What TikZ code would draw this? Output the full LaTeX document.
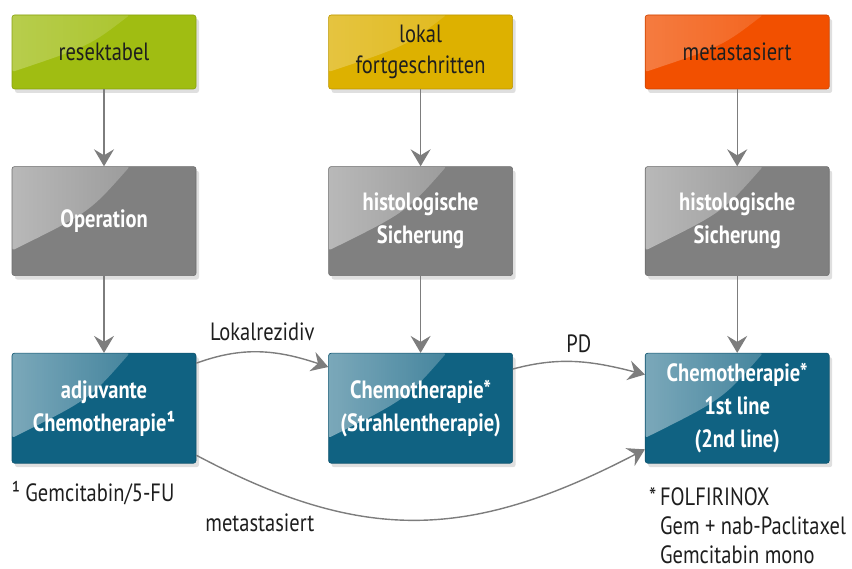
\documentclass[tikz,border=0pt]{standalone}
\usepackage{fontspec}
\setmainfont{PT Sans}[FakeStretch=0.82]
\usepackage{xcolor}
\usetikzlibrary{arrows.meta, bending, positioning, shadows, fadings, calc}

\definecolor{resgreen}{RGB}{160,189,18}
\definecolor{lokyellow}{RGB}{221,177,0}
\definecolor{metorange}{RGB}{242,80,0}
\definecolor{stepgray}{RGB}{128,128,128}
\definecolor{chemoteal}{RGB}{16,98,130}
\definecolor{connect}{RGB}{125,125,125}
\definecolor{inkdark}{RGB}{30,30,30}

\tikzfading[name=glossfade, left color=transparent!55, right color=transparent!90]
\tikzfading[name=softfade, left color=transparent!75, right color=transparent!94]

\tikzstyle{flow}=[x=1pt, y=1pt, font=\fontsize{25}{31}\selectfont,
  >={Stealth[length=17pt, width=20pt, inset=6pt, bend]}]
\tikzstyle{box}=[rectangle, rounded corners=2.5pt, minimum width=184pt,
  align=center, line width=0.6pt, gloss=glossfade,
  drop shadow={shadow xshift=3pt, shadow yshift=-4pt, opacity=0.25}]
\tikzset{gloss/.style={path picture={\fill[white, path fading=#1]
    (path picture bounding box.north west)
    -- ($(path picture bounding box.north west)!0.64!(path picture bounding box.north east)$)
    .. controls ($(path picture bounding box.north west)!0.42!(path picture bounding box.south east)$)
    .. ($(path picture bounding box.north west)!0.77!(path picture bounding box.south west)$)
    -- cycle;}}}
\tikzstyle{stage}=[box, gloss=softfade, minimum height=74pt, text=inkdark]
\tikzstyle{stepbox}=[box, minimum height=109pt, fill=stepgray, draw=stepgray!85!black,
  text=white, font=\fontsize{25}{33}\selectfont\bfseries]
\tikzstyle{chemo}=[box, minimum height=110pt, fill=chemoteal, draw=chemoteal!85!black,
  text=white, font=\fontsize{25}{33}\selectfont\bfseries]
\tikzstyle{conn}=[connect, line width=1.4pt]
\tikzstyle{lbl}=[text=inkdark, inner sep=3.3pt]

\begin{document}
\begin{tikzpicture}[flow]
  \useasboundingbox (0,0) rectangle (852,-569);

  % stages
  \node[stage, fill=resgreen, draw=resgreen!85!black]   (res) at (104,-52)    {resektabel};
  \node[stage, fill=lokyellow, draw=lokyellow!85!black] (lok) [right=132pt of res] {lokal\\fortgeschritten};
  \node[stage, fill=metorange, draw=metorange!85!black] (met) [right=132pt of lok] {metastasiert};

  % diagnosis / operation
  \node[stepbox] (op)   [below=77pt of res] {Operation};
  \node[stepbox] (hisB) [below=77pt of lok] {histologische\\Sicherung};
  \node[stepbox] (hisC) [below=77pt of met] {histologische\\Sicherung};

  % therapy
  \node[chemo] (adj)   [below=77pt of op]   {adjuvante\\Chemotherapie¹};
  \node[chemo] (chemB) [below=77pt of hisB] {Chemotherapie*\\(Strahlentherapie)};
  \node[chemo] (chemC) [below=77pt of hisC] {Chemotherapie*\\1st line\\(2nd line)};

  % footnotes
  \node[text=inkdark, inner sep=0pt, below=30pt of adj.south west, anchor=west] (fn1)
    {¹ Gemcitabin/5-FU};
  \node[text=inkdark, inner sep=0pt, align=left, font=\fontsize{25}{29}\selectfont,
    below=24pt of chemC.south west, anchor=north west, xshift=4pt] (fn2)
    {\makebox[11pt][l]{*}FOLFIRINOX\\\hspace*{11pt}Gem + nab-Paclitaxel\\\hspace*{11pt}Gemcitabin mono};

  \path[->, conn]
    (res)  edge (op)
    (op)   edge (adj)
    (lok)  edge (hisB)
    (hisB) edge (chemB)
    (met)  edge (hisC)
    (hisC) edge (chemC)
    (adj.26) edge [out=20, in=160] node [lbl, above=7pt] {Lokalrezidiv} (chemB.156)
    (chemB.23) edge [out=15, in=165] node [lbl, above=5pt] {PD} (chemC.160)
    (adj.-27) edge [out=-28, in=208, looseness=1.1]
      node [lbl, pos=0.13, below=24pt] {metastasiert} (chemC.204);
\end{tikzpicture}
\end{document}
